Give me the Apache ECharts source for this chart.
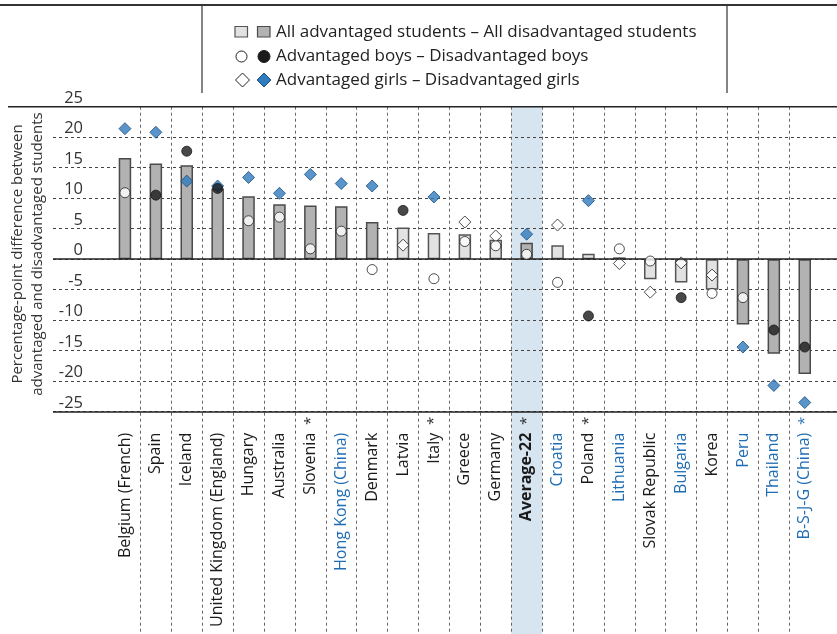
<!DOCTYPE html>
<html>
<head>
<meta charset="utf-8">
<script src="https://cdn.jsdelivr.net/npm/echarts@6/dist/echarts.min.js"></script>
<style>
html,body{margin:0;padding:0;background:#fff;}
#c{width:837px;height:634px;}
</style>
</head>
<body>
<div id="c"></div>
<script>
// ---- data ----
var categories = ['Belgium (French)','Spain','Iceland','United Kingdom (England)','Hungary','Australia','Slovenia','Hong Kong (China)','Denmark','Latvia','Italy','Greece','Germany','Average-22','Croatia','Poland','Lithuania','Slovak Republic','Bulgaria','Korea','Peru','Thailand','B-S-J-G (China)'];
var starred = ['Slovenia','Italy','Average-22','Poland','B-S-J-G (China)'];
var partners = ['Hong Kong (China)','Croatia','Lithuania','Bulgaria','Peru','Thailand','B-S-J-G (China)'];
var averageLabel = 'Average-22';
var allDiff  = [16.6, 15.7, 15.4, 11.6, 10.3, 9.0, 8.8, 8.7, 6.1, 5.2, 4.3, 4.1, 3.2, 2.7, 2.3, 0.9, 0.3, -3.3, -3.8, -5.0, -10.7, -15.5, -18.8];
var allSig   = [1,1,1,1,1,1,1,1,1,0,0,0,0,1,0,0,0,0,0,0,1,1,1];
var boysDiff = [10.9, 10.5, 17.7, 11.6, 6.3, 6.9, 1.7, 4.6, -1.7, 8.0, -3.2, 2.9, 2.2, 0.8, -3.8, -9.3, 1.7, -0.3, -6.3, -5.6, -6.3, -11.6, -14.4];
var boysSig  = [0,1,1,1,0,0,0,0,0,1,0,0,0,0,0,1,0,0,1,0,0,1,1];
var girlsDiff= [21.4, 20.8, 12.8, 12.0, 13.4, 10.8, 13.9, 12.4, 12.0, 2.3, 10.2, 6.1, 3.8, 4.1, 5.6, 9.6, -0.7, -5.4, -0.6, -2.6, -14.4, -20.7, -23.5];
var girlsSig = [1,1,1,1,1,1,1,1,1,0,1,0,0,1,0,1,0,0,0,0,1,1,1];
var yTicks = {min: -25, max: 25, interval: 5};
var yTitle = ['Percentage-point difference between', 'advantaged and disadvantaged students'];
var legendTexts = ['All advantaged students \u2013 All disadvantaged students', 'Advantaged boys \u2013 Disadvantaged boys', 'Advantaged girls \u2013 Disadvantaged girls'];

// ---- layout ----
var FONT = '"Open Sans"';
var plotTop = 106.7, plotBottom = 222.3;
var catLeft = 109.5, catWidth = 710.7;
var bw = catWidth / categories.length;
var n = categories.length;
var avgIdx = categories.indexOf(averageLabel);

function pick(vals, flags, want) {
  return vals.map(function (v, i) { return flags[i] === want ? v : '-'; });
}

var BLUE_TXT = '#1f6db3';
var LFS = 16;
var option = {
  animation: false,
  backgroundColor: '#fff',
  textStyle: {fontFamily: FONT},
  grid: [
    {left: 53, right: 0, top: plotTop, bottom: plotBottom},
    {left: catLeft, width: catWidth, top: plotTop, bottom: plotBottom},
    {left: catLeft + bw, width: bw * (n - 2), top: plotTop, bottom: 0}
  ],
  xAxis: [
    {gridIndex: 0, type: 'value', min: 0, max: 1, show: false},
    {gridIndex: 1, type: 'category', data: categories, position: 'bottom', z: 2,
      axisLine: {show: false}, axisTick: {show: false}, splitLine: {show: false},
      axisLabel: {
        interval: 0, rotate: 90, margin: 21, fontSize: LFS, fontFamily: FONT, color: '#1a1a1a',
        formatter: function (v) {
          if (v === averageLabel) return '{b|' + v + '}';
          if (partners.indexOf(v) >= 0) return '{p|' + v + '}';
          return '{n|' + v + '}';
        },
        rich: {
          n: {fontSize: LFS, fontFamily: FONT, color: '#1a1a1a'},
          p: {fontSize: LFS, fontFamily: FONT, color: BLUE_TXT},
          b: {fontSize: LFS, fontFamily: FONT, color: '#1a1a1a', fontWeight: 'bold'}
        }
      }
    },
    {gridIndex: 1, type: 'category', data: categories, position: 'bottom', z: 2,
      axisLine: {show: false}, axisTick: {show: false}, splitLine: {show: false},
      axisLabel: {
        interval: 0, rotate: 90, margin: 5, fontSize: 15, fontFamily: FONT,
        formatter: function (v) {
          if (starred.indexOf(v) < 0) return '';
          return partners.indexOf(v) >= 0 ? '{p|*}' : '{n|*}';
        },
        rich: {
          n: {fontSize: 15, fontFamily: FONT, color: '#1a1a1a'},
          p: {fontSize: 15, fontFamily: FONT, color: BLUE_TXT}
        }
      }
    },
    {gridIndex: 2, type: 'value', min: 0, max: n - 2, interval: 1, z: 2,
      axisLine: {show: false}, axisTick: {show: false}, axisLabel: {show: false},
      splitLine: {show: true, lineStyle: {color: '#666', width: 1, type: [3, 3]}}
    }
  ],
  yAxis: [
    {gridIndex: 0, type: 'value', min: yTicks.min, max: yTicks.max, interval: yTicks.interval, z: 2,
      axisLine: {show: false}, axisTick: {show: false},
      axisLabel: {inside: true, margin: 30, align: 'right', verticalAlign: 'bottom',
        fontSize: 16.5, fontFamily: FONT, color: '#333'},
      splitLine: {show: true, lineStyle: {color: '#444', width: 1, type: [3, 3]}}
    },
    {gridIndex: 1, type: 'value', min: yTicks.min, max: yTicks.max, interval: yTicks.interval, show: false, splitLine: {show: false}},
    {gridIndex: 2, type: 'value', min: 0, max: 1, show: false, splitLine: {show: false}}
  ],
  series: [
    {type: 'line', xAxisIndex: 3, yAxisIndex: 2, data: [], z: -5, silent: true,
      markArea: {silent: true, z: -5, itemStyle: {color: '#d7e5f1'},
        data: [[{xAxis: avgIdx - 1}, {xAxis: avgIdx}]]}
    },
    {type: 'line', xAxisIndex: 0, yAxisIndex: 0, data: [], silent: true,
      markLine: {symbol: 'none', silent: true, label: {show: false},
        lineStyle: {color: '#222', width: 1.5, type: 'solid'},
        data: [{yAxis: 0}, {yAxis: yTicks.min}]}
    },
    {name: 'All advantaged students', type: 'bar', xAxisIndex: 1, yAxisIndex: 1,
      data: pick(allDiff, allSig, 0), barWidth: 12.5, barGap: '-100%', z: 3,
      itemStyle: {color: '#e2e2e2', borderColor: '#555', borderWidth: 1.5}},
    {name: 'All disadvantaged students', type: 'bar', xAxisIndex: 1, yAxisIndex: 1,
      data: pick(allDiff, allSig, 1), barWidth: 12.5, barGap: '-100%', z: 3,
      itemStyle: {color: '#b2b2b2', borderColor: '#4a4a4a', borderWidth: 1.5}},
    {name: 'Advantaged girls', type: 'scatter', xAxisIndex: 1, yAxisIndex: 1,
      data: pick(girlsDiff, girlsSig, 0), symbol: 'diamond', symbolSize: 12, z: 4,
      itemStyle: {color: '#fff', borderColor: '#222', borderWidth: 1}},
    {name: 'Disadvantaged girls', type: 'scatter', xAxisIndex: 1, yAxisIndex: 1,
      data: pick(girlsDiff, girlsSig, 1), symbol: 'diamond', symbolSize: 12, z: 4,
      itemStyle: {color: '#2f7bbd', borderColor: '#1c4f7c', borderWidth: 1}},
    {name: 'Advantaged boys', type: 'scatter', xAxisIndex: 1, yAxisIndex: 1,
      data: pick(boysDiff, boysSig, 0), symbol: 'circle', symbolSize: 10, z: 5,
      itemStyle: {color: '#fff', borderColor: '#222', borderWidth: 1}},
    {name: 'Disadvantaged boys', type: 'scatter', xAxisIndex: 1, yAxisIndex: 1,
      data: pick(boysDiff, boysSig, 1), symbol: 'circle', symbolSize: 10, z: 5,
      itemStyle: {color: '#1a1a1a', borderColor: '#1a1a1a', borderWidth: 1}}
  ],
  graphic: [
    // frame
    {type: 'line', shape: {x1: 0, y1: 5, x2: 837, y2: 5}, style: {stroke: '#333', lineWidth: 2}},
    {type: 'line', shape: {x1: 202, y1: 5, x2: 202, y2: 93}, style: {stroke: '#333', lineWidth: 1.2}},
    {type: 'line', shape: {x1: 727, y1: 5, x2: 727, y2: 93}, style: {stroke: '#333', lineWidth: 1.2}},
    {type: 'line', shape: {x1: 8, y1: plotTop, x2: 837, y2: plotTop}, style: {stroke: '#222', lineWidth: 1.5}, z: 10},
    // legend
    {type: 'rect', shape: {x: 235, y: 26.5, width: 12.5, height: 10.5}, style: {fill: '#e2e2e2', stroke: '#555', lineWidth: 1.2}},
    {type: 'rect', shape: {x: 257.5, y: 26.5, width: 12.5, height: 10.5}, style: {fill: '#b2b2b2', stroke: '#4a4a4a', lineWidth: 1.2}},
    {type: 'text', x: 276, y: 32, style: {text: legendTexts[0], font: '17px ' + FONT, fill: '#222', textVerticalAlign: 'middle'}},
    {type: 'circle', shape: {cx: 241.5, cy: 56.5, r: 5.5}, style: {fill: '#fff', stroke: '#222', lineWidth: 1}},
    {type: 'circle', shape: {cx: 264, cy: 56.5, r: 6}, style: {fill: '#1a1a1a', stroke: '#1a1a1a', lineWidth: 1}},
    {type: 'text', x: 276, y: 56.5, style: {text: legendTexts[1], font: '17px ' + FONT, fill: '#222', textVerticalAlign: 'middle'}},
    {type: 'polygon', shape: {points: [[242.5, 73], [249.5, 80], [242.5, 87], [235.5, 80]]}, style: {fill: '#fff', stroke: '#222', lineWidth: 1}},
    {type: 'polygon', shape: {points: [[264, 73], [271, 80], [264, 87], [257, 80]]}, style: {fill: '#2f7bbd', stroke: '#1c4f7c', lineWidth: 1}},
    {type: 'text', x: 276, y: 80, style: {text: legendTexts[2], font: '17px ' + FONT, fill: '#222', textVerticalAlign: 'middle'}},
    // y title
    {type: 'text', x: 28, y: 254, rotation: Math.PI / 2,
      style: {text: yTitle.join('\n'), font: '15px ' + FONT, fill: '#333', textAlign: 'center', textVerticalAlign: 'middle', lineHeight: 20}}
  ]
};
var chart = echarts.init(document.getElementById('c'), null, {renderer: 'canvas'});
chart.setOption(option);
</script>
</body>
</html>
